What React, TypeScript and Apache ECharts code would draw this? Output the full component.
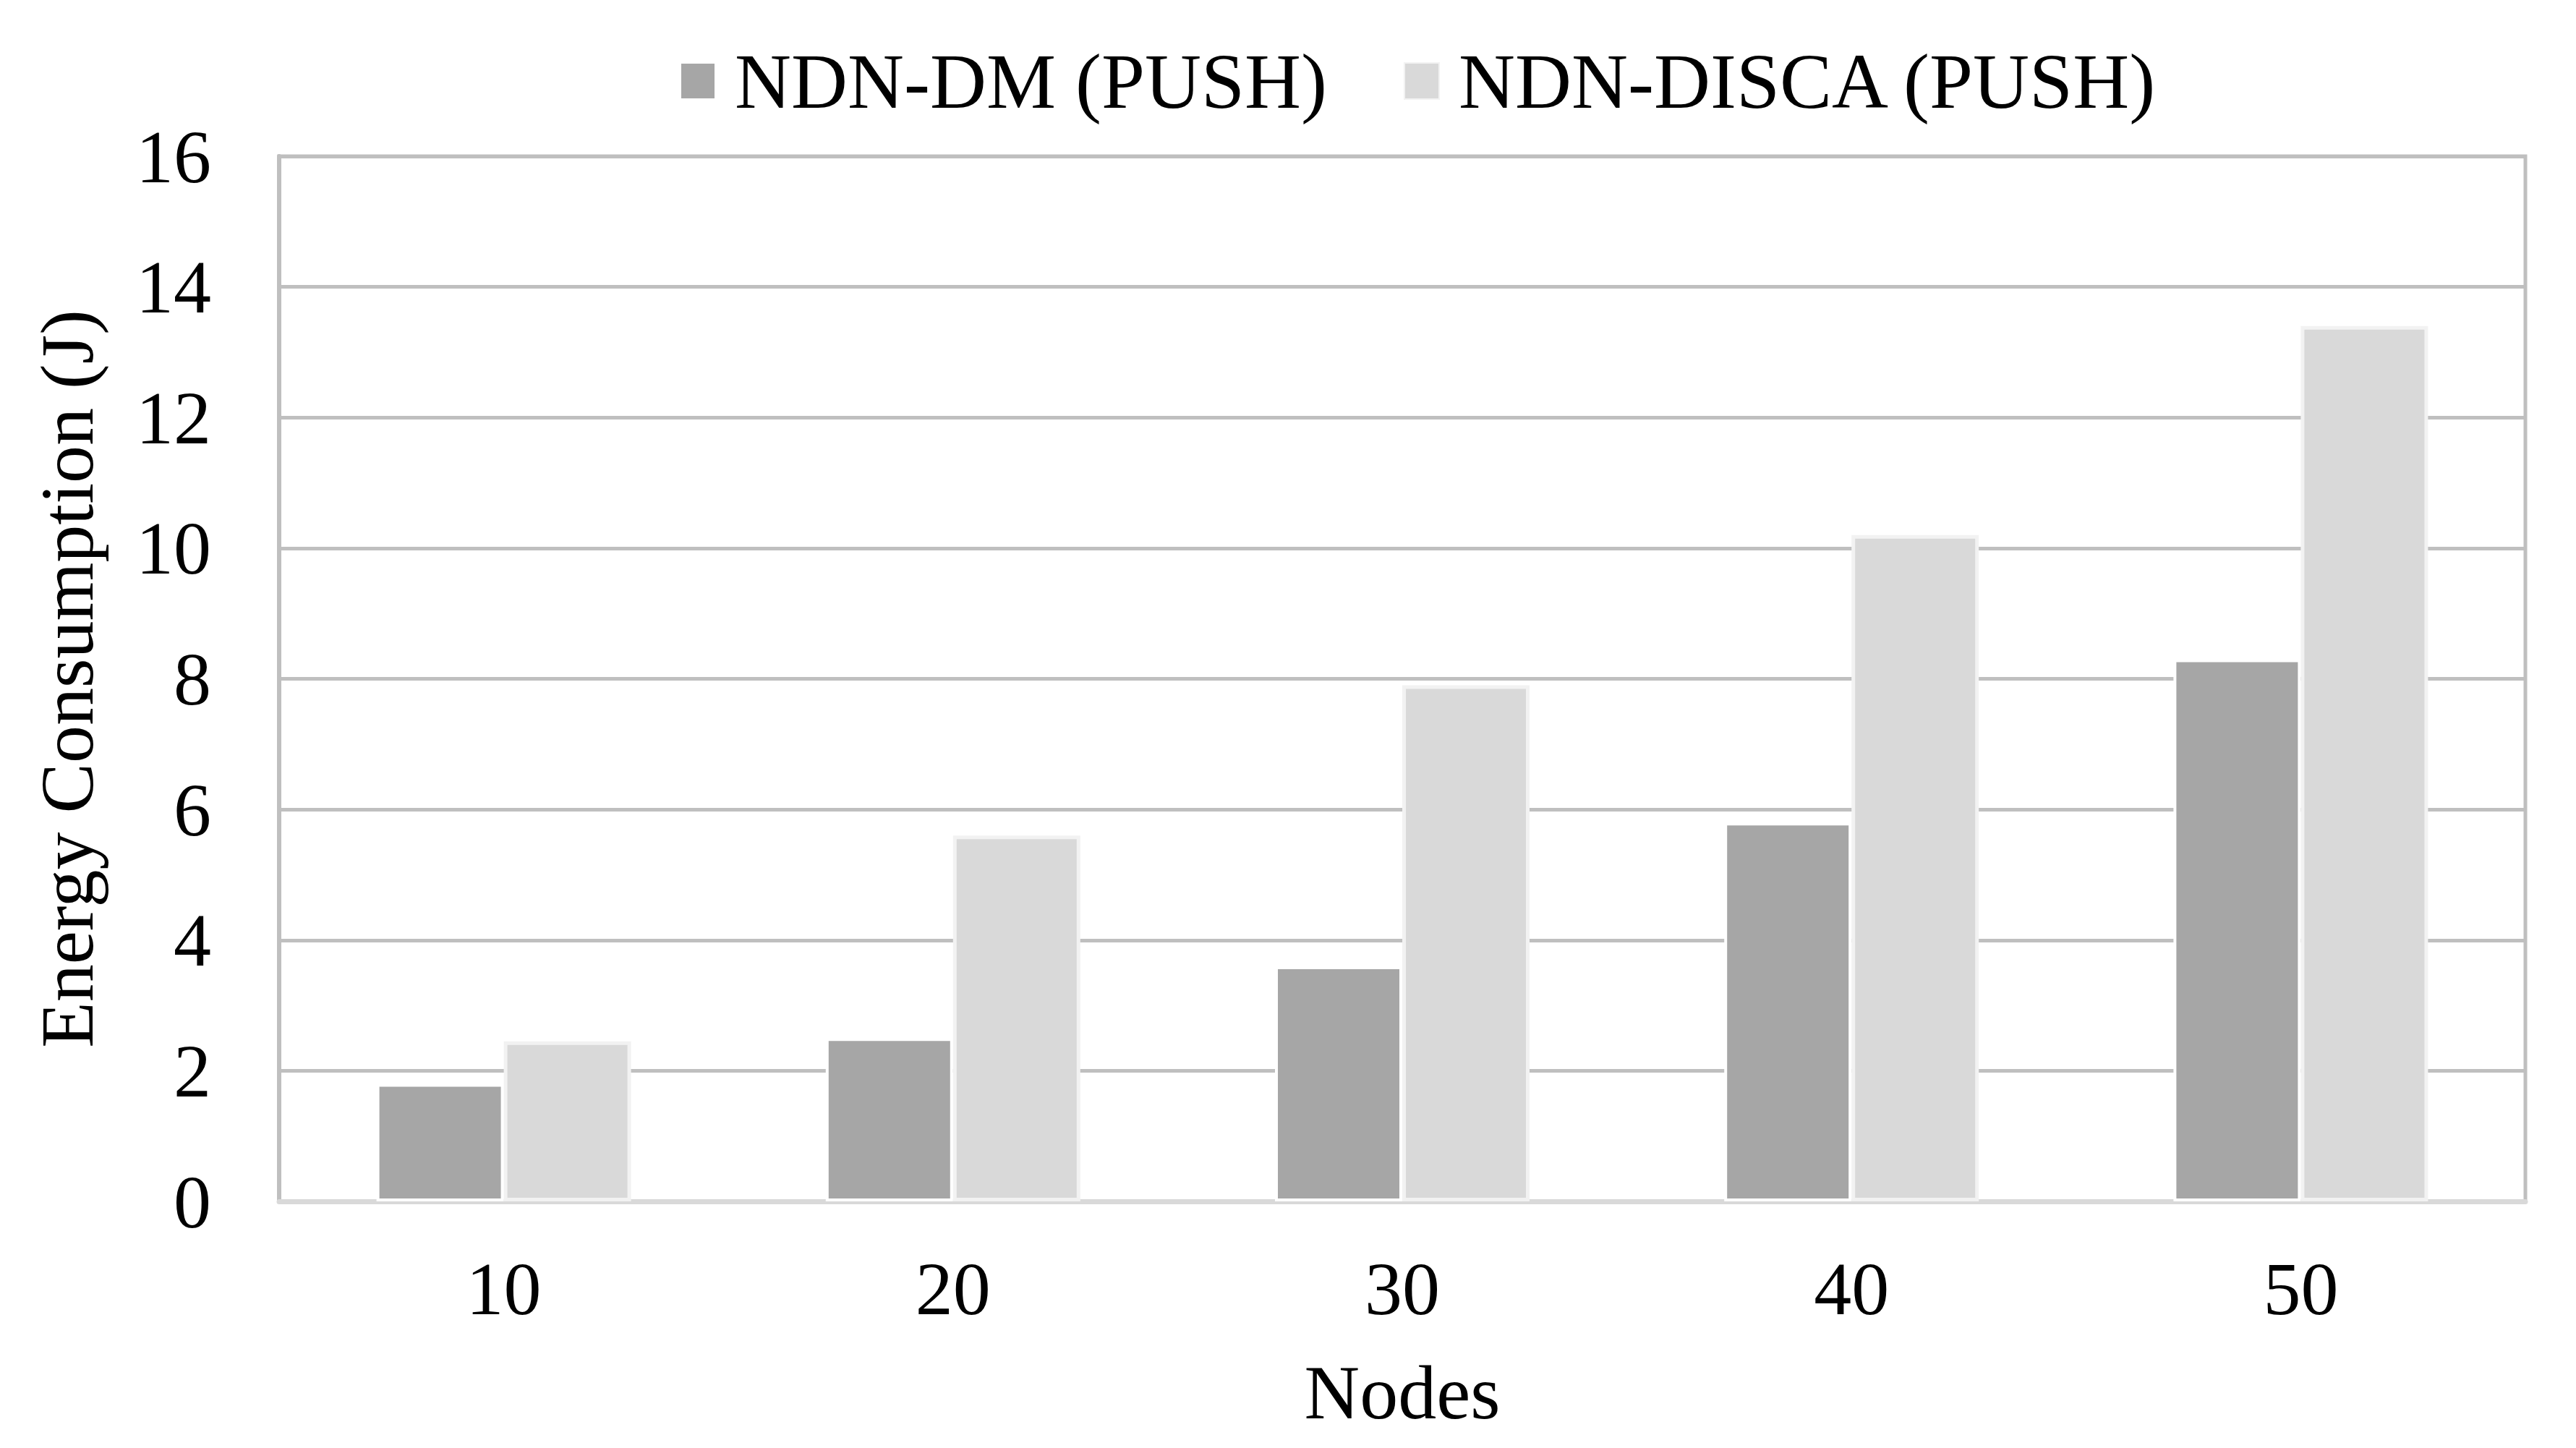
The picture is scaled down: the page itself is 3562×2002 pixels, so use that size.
import React, { useEffect, useRef } from "react";
import * as echarts from "echarts";

const categories = ["10", "20", "30", "40", "50"];
const seriesNames = ["NDN-DM (PUSH)", "NDN-DISCA (PUSH)"];
const dmValues = [1.8, 2.5, 3.6, 5.8, 8.3];
const discaValues = [2.45, 5.6, 7.9, 10.2, 13.4];
const yMin = 0;
const yMax = 16;
const yInterval = 2;
const xTitle = "Nodes";
const yTitle = "Energy Consumption (J)";

const FONT = "'Liberation Serif', 'Times New Roman', serif";

export default function App() {
  const ref = useRef<HTMLDivElement>(null);
  useEffect(() => {
    if (!ref.current) return;
    const chart = echarts.init(ref.current, null, { renderer: "svg" });
    chart.setOption({
      animation: false,
      backgroundColor: "#ffffff",
      textStyle: { fontFamily: FONT },
      legend: {
        left: 935,
        top: 52,
        itemWidth: 48,
        itemHeight: 50,
        itemGap: 106,
        icon: "rect",
        textStyle: {
          fontFamily: FONT,
          fontSize: 108,
          color: "#000",
          lineHeight: 110,
          padding: [0, 0, 0, 22],
        },
        data: seriesNames,
      },
      grid: {
        left: 386,
        right: 70,
        top: 216,
        bottom: 341,
        show: true,
        borderColor: "#bfbfbf",
        borderWidth: 5,
        containLabel: false,
      },
      xAxis: {
        type: "category",
        data: categories,
        name: xTitle,
        nameLocation: "middle",
        nameGap: 211,
        nameTextStyle: { fontFamily: FONT, fontSize: 106, color: "#000" },
        axisTick: { show: false },
        axisLine: { show: true, lineStyle: { color: "#d9d9d9", width: 7 } },
        axisLabel: { fontFamily: FONT, fontSize: 104, color: "#000", margin: 68 },
      },
      yAxis: {
        type: "value",
        min: yMin,
        max: yMax,
        interval: yInterval,
        name: yTitle,
        nameLocation: "middle",
        nameGap: 242,
        nameTextStyle: { fontFamily: FONT, fontSize: 104, color: "#000" },
        axisLine: { show: true, lineStyle: { color: "#bfbfbf", width: 6 } },
        axisTick: { show: false },
        splitLine: { show: true, lineStyle: { color: "#bfbfbf", width: 5 } },
        axisLabel: { fontFamily: FONT, fontSize: 104, color: "#000", margin: 94 },
      },
      series: [
        {
          name: seriesNames[0],
          type: "bar",
          data: dmValues,
          barWidth: 176,
          barGap: "0%",
          itemStyle: { color: "#a6a6a6", borderColor: "#ffffff", borderWidth: 4 },
        },
        {
          name: seriesNames[1],
          type: "bar",
          data: discaValues,
          barWidth: 176,
          barGap: "0%",
          itemStyle: { color: "#d9d9d9", borderColor: "#f2f2f2", borderWidth: 5 },
        },
      ],
    });
    return () => chart.dispose();
  }, []);
  return (
    <div
      ref={ref}
      style={{ position: "fixed", left: 0, top: 0, width: 3562, height: 2002, background: "#fff" }}
    />
  );
}
